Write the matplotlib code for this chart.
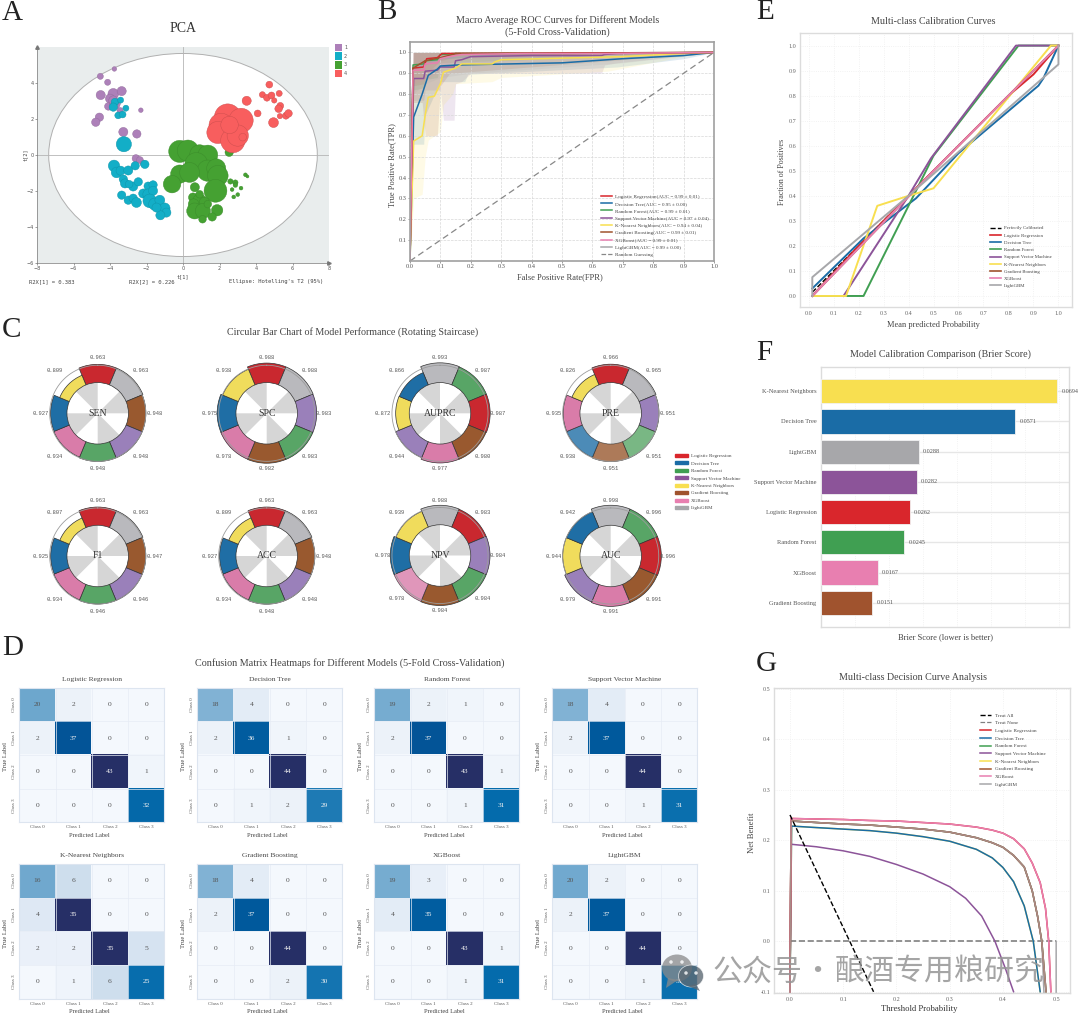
import numpy as np
import matplotlib
matplotlib.use("Agg")
import matplotlib.pyplot as plt
from matplotlib.colors import LinearSegmentedColormap
from matplotlib.lines import Line2D
from matplotlib.patches import Ellipse, Patch, Polygon

plt.rcParams['font.family'] = ['Liberation Serif', 'DejaVu Sans']

W, H = 1080, 1016

names = {"LR": "Logistic Regression", "DT": "Decision Tree", "RF": "Random Forest",
         "SVM": "Support Vector Machine", "KNN": "K-Nearest Neighbors",
         "GB": "Gradient Boosting", "XGB": "XGBoost", "LGBM": "LightGBM"}
colors = {"LR": "#d9262c", "DT": "#1a6ca6", "RF": "#409f52", "SVM": "#8c5499",
          "KNN": "#f8df50", "GB": "#a0532e", "XGB": "#e87fb0", "LGBM": "#a7a7aa"}
ring_colors = {"LR": "#c9282f", "DT": "#1f6ea5", "RF": "#58a566", "SVM": "#9a80ba",
               "KNN": "#f0dc5c", "GB": "#99592f", "XGB": "#d97ca9", "LGBM": "#b9b9bd"}
order = ["LR", "DT", "RF", "SVM", "KNN", "GB", "XGB", "LGBM"]

# PCA scores: t[1], t[2], bubble radius
g1_t1 = [-3.76, -4.53, -4.13, -4.51, -3.82, -3.36, -4.0, -4.09, -3.73, -3.45, -2.31, -4.58, -4.78, -3.27, -2.53, -2.58, -2.36, -2.18, -3.82]
g1_t2 = [4.78, 4.37, 4.04, 3.33, 3.40, 3.55, 3.13, 2.70, 2.85, 2.47, 2.49, 2.10, 1.82, 1.28, 1.17, -0.19, -0.28, -0.47, 3.03]
g1_r = [6, 8, 8, 12, 14, 12, 12, 10, 14, 8, 6, 11, 11, 12, 11, 10, 9, 8, 12]
g2_t1 = [-3.73, -3.42, -3.82, -3.13, -3.55, -3.31, -3.24, -2.09, -2.62, -3.78, -3.64, -3.42, -3.0, -3.27, -3.18, -2.73, -2.45, -2.95, -1.91, -1.64, -3.36, -3.0, -2.73, -2.55, -2.18, -1.91, -1.64, -1.82, -1.55, -1.27, -1.0, -0.91, -1.24, -1.45]
g2_t2 = [2.94, 3.05, 2.66, 2.60, 2.20, 2.25, 0.60, -0.52, -0.60, -0.60, -0.97, -0.87, -0.86, -1.34, -1.58, -1.75, -1.49, -1.62, -1.73, -1.66, -2.23, -2.51, -2.40, -2.64, -2.14, -2.18, -1.99, -2.55, -2.73, -2.51, -2.96, -3.2, -3.35, -2.92]
g2_r = [10, 8, 11, 8, 9, 9, 20, 11, 11, 15, 14, 12, 12, 11, 12, 12, 11, 10, 11, 11, 11, 11, 11, 13, 12, 14, 12, 18, 16, 13, 14, 12, 12, 12]
g3_t1 = [-0.18, 0.27, 0.91, 1.36, 0.73, 1.36, 1.82, 1.91, -0.18, 0.36, -0.6, 1.78, 0.65, 2.53, 2.6, 2.87, 2.87, 2.69, 3.18, 3.0, 2.78, 3.42, 3.53, 0.55, 0.91, 1.18, 0.58, 0.64, 1.09, 1.36, 1.87, 1.6, 1.07, 0.91]
g3_t2 = [0.20, 0.24, 0.02, 0.0, -0.50, -0.87, -0.74, -1.15, -1.06, -0.97, -1.62, -1.99, -1.79, 0.15, -1.47, -1.53, -1.67, -1.92, -1.84, -2.20, -2.33, -1.10, -1.19, -2.36, -2.55, -2.64, -2.73, -3.11, -3.11, -2.73, -3.07, -3.44, -3.57, -2.18]
g3_r = [29, 28, 26, 26, 30, 28, 25, 27, 24, 26, 23, 30, 12, 11, 7, 7, 6, 5, 5, 5, 5, 5, 4, 12, 18, 14, 14, 21, 20, 10, 15, 11, 10, 10]
g4_t1 = [2.45, 3.18, 2.09, 1.91, 2.73, 3.0, 2.55, 3.27, 3.49, 4.73, 4.35, 4.6, 4.85, 5.27, 5.0, 4.09, 5.33, 5.24, 5.31, 5.64, 5.78, 4.96]
g4_t2 = [2.10, 1.92, 1.64, 1.25, 0.80, 1.08, 1.67, 0.99, 3.01, 3.91, 3.35, 3.18, 3.31, 3.42, 3.03, 2.31, 2.73, 2.57, 2.16, 2.18, 2.31, 1.80]
g4_r = [35, 32, 32, 29, 32, 28, 23, 10, 12, 9, 8, 9, 9, 8, 7, 9, 9, 10, 7, 9, 10, 13]

# mean ROC curves
lr_fpr = [0, .01, .045, .055, .09, .105, .14, 1]
lr_tpr = [0, .925, .93, .97, .975, .995, .995, 1]
dt_fpr = [0, .012, .04, .06, .09, .1, .16, .5, .7, .9, 1]
dt_tpr = [0, .69, .8, .89, .92, .935, .94, .95, .97, .985, 1]
rf_fpr = [0, .01, .045, .05, .09, .1, .15, 1]
rf_tpr = [0, .94, .945, .96, .965, .99, .995, 1]
svm_fpr = [0, .012, .045, .05, .09, .1, .145, .15, .17, .2, .4, .63, .64, .68, 1]
svm_tpr = [0, .875, .875, .91, .915, .93, .93, .96, .965, .98, .985, .985, .99, .995, 1]
knn_fpr = [0, .012, .04, .05, .06, .08, .1, .11, .15, .17, .27, .28, .3, .7, .9, 1]
knn_tpr = [0, .575, .6, .7, .785, .79, .85, .905, .925, .945, .945, .955, .965, .98, .995, 1]
gb_fpr = [0, .01, .05, .1, .14, .15, .52, 1]
gb_tpr = [0, .925, .96, .975, .99, .995, .995, 1]
xgb_fpr = [0, .01, .045, .05, .09, .1, .13, .17, .38, .65, 1]
xgb_tpr = [0, .915, .915, .945, .95, .97, .98, .99, .995, .995, 1]
lgbm_fpr = [0, .01, .1, .3, 1]
lgbm_tpr = [0, .92, .97, .99, 1]
roc_fpr = {"LR": lr_fpr, "DT": dt_fpr, "RF": rf_fpr, "SVM": svm_fpr, "KNN": knn_fpr, "GB": gb_fpr, "XGB": xgb_fpr, "LGBM": lgbm_fpr}
roc_tpr = {"LR": lr_tpr, "DT": dt_tpr, "RF": rf_tpr, "SVM": svm_tpr, "KNN": knn_tpr, "GB": gb_tpr, "XGB": xgb_tpr, "LGBM": lgbm_tpr}
auc_text = {"LR": "0.99 ± 0.01", "DT": "0.95 ± 0.00", "RF": "0.99 ± 0.01", "SVM": "0.97 ± 0.04",
            "KNN": "0.94 ± 0.04", "GB": "0.99 ± 0.01", "XGB": "0.99 ± 0.01", "LGBM": "0.99 ± 0.00"}

# lower edge of the +/- 1 std band around each ROC curve
band_x = {"LR": [0, .01, .045, .055, .1, .14, 1],
          "DT": [0, .012, .045, .05, .09, .1, .18, .19, .68, .9, 1],
          "RF": [0, .01, .045, .05, .09, .1, 1],
          "SVM": [0, .012, .045, .05, .1, .11, .145, .15, .17, .2, .63, .64, .68, 1],
          "KNN": [0, .012, .04, .05, .06, .1, .11, .14, .15, .27, .3, .65, .9, 1],
          "GB": [0, .01, .04, .05, .09, .1, .13, 1],
          "XGB": [0, .01, .05, .09, .1, .17, 1],
          "LGBM": [0, .01, .05, .1, .2, .5, .7, 1]}
band_lo = {"LR": [0, .84, .85, .9, .96, .975, 1],
           "DT": [0, .56, .56, .7, .83, .86, .86, .895, .93, .97, 1],
           "RF": [0, .82, .83, .87, .88, .95, 1],
           "SVM": [0, .77, .77, .82, .82, .675, .675, .85, .86, .9, .9, .94, .95, 1],
           "KNN": [0, .3, .32, .5, .58, .62, .75, .8, .85, .86, .88, .91, .98, 1],
           "GB": [0, .76, .76, .6, .6, .84, .9, 1],
           "XGB": [0, .85, .87, .9, .93, .97, 1],
           "LGBM": [0, .8, .85, .88, .9, .93, .95, 1]}

# calibration curves
cal_x = {"LR": [.015, .2, .4, .8, .9, 1], "DT": [.015, .22, .43, .6, .92, .94, 1],
         "RF": [.015, .22, .42, .5, .84, 1], "SVM": [.14, .4, .49, .83, 1],
         "KNN": [.015, .15, .275, .4, .5, .97, 1], "GB": [.015, .5, 1],
         "XGB": [.015, .5, 1], "LGBM": [.015, .015, .4, 1, 1]}
cal_y = {"LR": [0, .2, .4, .8, .885, 1], "DT": [.03, .23, .39, .57, .84, .87, 1],
         "RF": [0, 0, .4, .56, 1, 1], "SVM": [0, .4, .55, 1, 1],
         "KNN": [0, 0, .36, .4, .43, 1, 1], "GB": [0, .5, 1],
         "XGB": [0, .5, 1], "LGBM": [0, .075, .4, .925, 1]}
perfect_x = [.015, 1]
perfect_y = [.015, 1]

# Brier scores, worst first
brier_models = ["KNN", "DT", "LGBM", "SVM", "LR", "RF", "XGB", "GB"]
brier_scores = [0.0694, 0.0571, 0.0288, 0.0282, 0.0262, 0.0245, 0.0167, 0.0151]

# ring values, clockwise from twelve o'clock
sen_models = ["LR", "LGBM", "GB", "SVM", "RF", "XGB", "DT", "KNN"]
sen_vals = [.963, .963, .948, .948, .948, .934, .927, .809]
spc_models = ["LR", "LGBM", "SVM", "RF", "GB", "XGB", "DT", "KNN"]
spc_vals = [.988, .988, .983, .983, .982, .978, .975, .938]
auprc_models = ["LGBM", "RF", "LR", "GB", "XGB", "SVM", "KNN", "DT"]
auprc_vals = [.993, .987, .987, .980, .977, .944, .872, .866]
pre_models = ["LR", "LGBM", "SVM", "RF", "GB", "DT", "XGB", "KNN"]
pre_vals = [.966, .965, .951, .951, .951, .938, .935, .826]
f1_models = ["LR", "LGBM", "GB", "SVM", "RF", "XGB", "DT", "KNN"]
f1_vals = [.963, .963, .947, .946, .946, .934, .925, .807]
acc_models = ["LR", "LGBM", "GB", "SVM", "RF", "XGB", "DT", "KNN"]
acc_vals = [.963, .963, .948, .948, .948, .934, .927, .809]
npv_models = ["LGBM", "LR", "SVM", "RF", "GB", "XGB", "DT", "KNN"]
npv_vals = [.988, .983, .984, .984, .984, .978, .978, .939]
auc_models = ["LGBM", "RF", "LR", "GB", "XGB", "SVM", "KNN", "DT"]
auc_vals = [.998, .996, .996, .991, .991, .979, .944, .942]

cm_lr = [[20, 2, 0, 0], [2, 37, 0, 0], [0, 0, 43, 1], [0, 0, 0, 32]]
cm_dt = [[18, 4, 0, 0], [2, 36, 1, 0], [0, 0, 44, 0], [0, 1, 2, 29]]
cm_rf = [[19, 2, 1, 0], [2, 37, 0, 0], [0, 0, 43, 1], [0, 0, 1, 31]]
cm_svm = [[18, 4, 0, 0], [2, 37, 0, 0], [0, 0, 44, 0], [0, 0, 1, 31]]
cm_knn = [[16, 6, 0, 0], [4, 35, 0, 0], [2, 2, 35, 5], [0, 1, 6, 25]]
cm_gb = [[18, 4, 0, 0], [2, 37, 0, 0], [0, 0, 44, 0], [0, 0, 2, 30]]
cm_xgb = [[19, 3, 0, 0], [4, 35, 0, 0], [0, 0, 43, 1], [0, 0, 1, 31]]
cm_lgbm = [[20, 2, 0, 0], [2, 37, 0, 0], [0, 0, 44, 0], [0, 0, 1, 31]]
class_labels = ["Class 0", "Class 1", "Class 2", "Class 3"]

# decision curves
dca_top_x = [0, .002, .05, .1, .15, .2, .25, .3, .35, .38, .4, .42, .44, .455, .47, .48, .486, .49]
dca_top_y = [-.1, .243, .242, .241, .239, .238, .235, .232, .226, .22, .214, .203, .183, .155, .116, .065, 0, -.1]
dca_mid_x = [0, .002, .05, .1, .15, .2, .25, .3, .35, .38, .4, .42, .44, .455, .465, .473, .481]
dca_mid_y = [-.1, .238, .235, .232, .23, .226, .222, .216, .205, .195, .186, .17, .147, .1, .05, 0, -.1]
dca_dt_x = [0, .003, .05, .1, .15, .2, .25, .3, .35, .38, .4, .42, .44, .457, .47]
dca_dt_y = [-.1, .228, .225, .222, .219, .214, .207, .198, .182, .165, .146, .118, .07, 0, -.1]
dca_svm_x = [0, .002, .05, .1, .15, .2, .25, .3, .33, .36, .385, .405, .42]
dca_svm_y = [-.1, .192, .187, .179, .168, .152, .133, .108, .085, .05, 0, -.055, -.1]
dca_lgbm_x = [0, .002, .05, .1, .15, .2, .25, .3, .35, .38, .4, .42, .44, .455, .465, .473, .481, .5, .5]
dca_lgbm_y = [-.1, .238, .235, .232, .23, .226, .222, .216, .205, .195, .186, .17, .147, .1, .05, 0, -.2, -.2, 0]
dca_x = {"LR": dca_top_x, "DT": dca_dt_x, "RF": dca_mid_x, "SVM": dca_svm_x, "KNN": dca_dt_x, "GB": dca_mid_x, "XGB": dca_top_x, "LGBM": dca_lgbm_x}
dca_y = {"LR": dca_top_y, "DT": dca_dt_y, "RF": dca_mid_y, "SVM": dca_svm_y, "KNN": dca_dt_y, "GB": dca_mid_y, "XGB": dca_top_y, "LGBM": dca_lgbm_y}
treat_all_x = [0, .157]
treat_all_y = [.25, -.1]
treat_none_x = [0, .5]
treat_none_y = [0, 0]

fig = plt.figure(figsize=(W / 100, H / 100), dpi=100)


def axpx(x0, y0, x1, y1, **kw):
    return fig.add_axes([x0 / W, 1 - y1 / H, (x1 - x0) / W, (y1 - y0) / H], **kw)


def ptext(x, y, s, size, color="#444444", ha="center", va="center", **kw):
    fig.text(x / W, 1 - y / H, s, fontsize=size, color=color, ha=ha, va=va, **kw)


def pxlegend(ax, handles, x, y, size, hlen, hpad, spacing):
    ax.legend(handles=handles, loc="upper left", bbox_to_anchor=(x / W, 1 - y / H),
              bbox_transform=fig.transFigure, frameon=False, fontsize=size, borderpad=0,
              borderaxespad=0, handlelength=hlen, handletextpad=hpad, labelspacing=spacing,
              labelcolor="#444444")


def light_frame(ax, color="#dcdcdc", lw=1.0):
    for s in ax.spines.values():
        s.set_color(color)
        s.set_linewidth(lw)


for letter, x, y in [("A", 2, 20), ("B", 377, 19), ("E", 756, 19), ("C", 2, 337),
                     ("F", 756, 360), ("D", 2, 655), ("G", 756, 671)]:
    ptext(x, y, letter, 21, color="#222222", ha="left", va="baseline")

# A: PCA score plot
ptext(183, 28, "PCA", 10, color="#333333")
ax = axpx(37, 47, 329, 263)
ax.set_facecolor("#e9eded")
ax.set_xlim(-8, 8)
ax.set_ylim(-6, 6)
ax.add_patch(Ellipse((0, 0), 14.72, 11.28, fc="white", ec="#b0b0b0", lw=0.7, zorder=1))
ax.axhline(0, color="#b5b5b5", lw=0.6, zorder=1.5)
ax.axvline(0, color="#b5b5b5", lw=0.6, zorder=1.5)
pca_groups = [(g1_t1, g1_t2, g1_r, "#ad80b9", "#8f6a9a"), (g2_t1, g2_t2, g2_r, "#13aec7", "#0f93a8"),
              (g3_t1, g3_t2, g3_r, "#45a132", "#3a8a2a"), (g4_t1, g4_t2, g4_r, "#f85e5e", "#c94c4c")]
for i, (t1, t2, r, c, ec) in enumerate(pca_groups):
    ax.scatter(t1, t2, s=0.3 * np.array(r) ** 2, color=c, edgecolors=ec, linewidths=0.3, zorder=2 + i)
ax.spines[["top", "right"]].set_visible(False)
ax.spines[["left", "bottom"]].set_color("#777777")
ax.spines[["left", "bottom"]].set_linewidth(0.5)
ax.plot(1, 0, ">", color="#777777", ms=2.5, transform=ax.transAxes, clip_on=False)
ax.plot(0, 1, "^", color="#777777", ms=2.5, transform=ax.transAxes, clip_on=False)
ax.set_xticks(np.arange(-8, 9, 2))
ax.set_yticks([-6, -4, -2, 0, 2, 4])
ax.tick_params(labelsize=3.5, length=1.2, width=0.4, pad=1, colors="#555555")
for lab in ax.get_xticklabels() + ax.get_yticklabels():
    lab.set_family("DejaVu Sans")
ptext(183, 277, "t[1]", 3.8, family="DejaVu Sans Mono")
ptext(25, 155, "t[2]", 3.8, rotation=90, family="DejaVu Sans Mono")
ptext(29, 282, "R2X[1] = 0.383", 4, ha="left", family="DejaVu Sans Mono")
ptext(129, 282, "R2X[2] = 0.226", 4, ha="left", family="DejaVu Sans Mono")
ptext(229, 282, "Ellipse: Hotelling's T2 (95%)", 4, ha="left", family="DejaVu Sans Mono")
leg_ax = axpx(334, 43, 348, 79)
leg_ax.set_xlim(0, 14)
leg_ax.set_ylim(36, 0)
leg_ax.axis("off")
for i, (lab, c) in enumerate(zip(["1", "2", "3", "4"], ["#ad80b9", "#13aec7", "#45a132", "#f85e5e"])):
    leg_ax.bar(4.5, 7.5, width=8, bottom=0.8 + i * 8.6, color=c)
    leg_ax.text(10, 4.5 + i * 8.6, lab, fontsize=3.5, va="center", color="#555555", family="DejaVu Sans")

# B: macro-average ROC
ptext(557.5, 20, "Macro Average ROC Curves for Different Models", 7.3)
ptext(557.5, 32, "(5-Fold Cross-Validation)", 7.3)
ax = axpx(410, 42, 714, 261)
for m in order:
    lo = np.array(band_lo[m], dtype=float)
    hi = np.ones_like(lo)
    hi[0] = 0
    ax.fill_between(band_x[m], lo, hi, color=colors[m], alpha=0.14, lw=0)
ax.plot([0, 1], [0, 1], color="#888888", ls="--", lw=0.9, dashes=(5, 3))
for m in ["LGBM", "SVM", "DT", "KNN", "RF", "LR", "GB", "XGB"]:
    ax.plot(roc_fpr[m], roc_tpr[m], color=colors[m], lw=1.1)
ax.set_xlim(0, 1)
ax.set_ylim(0, 1.05)
ax.set_xticks(np.arange(0, 1.01, .1))
ax.set_yticks(np.arange(.1, 1.01, .1))
ax.grid(color="#d8d8d8", ls="--", lw=0.5)
light_frame(ax, "#a0a0a0", 1.2)
ax.tick_params(labelsize=4.6, length=1.5, width=0.4, pad=1, colors="#555555")
ptext(560, 277, "False Positive Rate(FPR)", 6)
ptext(392, 165, "True Positive Rate(TPR)", 6, rotation=90)
roc_handles = [Line2D([], [], color=colors[m], lw=1.1, label=f"{names[m]}(AUC = {auc_text[m]})") for m in order]
roc_handles.append(Line2D([], [], color="#888888", ls="--", lw=0.9, label="Random Guessing"))
pxlegend(ax, roc_handles, 601, 194, 3.7, 2.2, 0.6, 0.53)

# C: ring charts
ring_metrics = [("SEN", sen_models, sen_vals, 97.7, 413.3), ("SPC", spc_models, spc_vals, 266.7, 413.3),
                ("AUPRC", auprc_models, auprc_vals, 440, 413.3), ("PRE", pre_models, pre_vals, 610.7, 413.3),
                ("F1", f1_models, f1_vals, 97.7, 556), ("ACC", acc_models, acc_vals, 266.7, 556),
                ("NPV", npv_models, npv_vals, 440, 555.5), ("AUC", auc_models, auc_vals, 610.7, 556)]
faded = {"PRE": ("RF", "GB", "DT"), "NPV": ("XGB",)}
ptext(353, 332, "Circular Bar Chart of Model Performance (Rotating Staircase)", 7.2)
inner = 0.605
for metric, models, vals, cx, cy in ring_metrics:
    ax = axpx(cx - 61, cy - 61, cx + 61, cy + 61, projection="polar")
    ax.set_theta_zero_location("N")
    ax.set_theta_direction(-1)
    ax.set_ylim(0, 1.2)
    ax.axis("off")
    ax.patch.set_visible(False)
    theta = np.radians(np.arange(8) * 45)
    ax.bar(np.radians([67.5, 157.5, 247.5, 337.5]), inner, width=np.radians(45), color="#d6d6d6", lw=0)
    ring_t = np.linspace(0, 2 * np.pi, 200)
    ax.plot(ring_t, np.full(200, 0.945), color="#9c9c9c", lw=0.6)
    for k, (t, m, v) in enumerate(zip(theta, models, vals)):
        alpha = 0.8 if m in faded.get(metric, ()) else 1
        ax.bar(t, v - inner, width=np.radians(45), bottom=inner, color=ring_colors[m],
               alpha=alpha, edgecolor="#333333", linewidth=0.5)
        # diagonal labels sit further out, top and bottom a little closer
        lab_r = 1.2 if k % 2 else (1.09 if k % 4 == 0 else 1.13)
        ax.text(t, lab_r, f"{v:.3f}", fontsize=4, color="#555555", ha="center", va="center",
                family="Liberation Mono", clip_on=False)
    ax.text(0, 0, metric, fontsize=7, color="#333333", ha="center", va="center")
ring_handles = [Patch(color=colors[m], label=names[m]) for m in order]
fig.legend(handles=ring_handles, loc="upper left", bbox_to_anchor=(675 / W, 1 - 454 / H), frameon=False,
           fontsize=3.6, borderpad=0, borderaxespad=0, handlelength=2.6, handleheight=0.55,
           handletextpad=0.6, labelspacing=0.63, labelcolor="#444444")

# D: confusion matrices
cm_cmap = LinearSegmentedColormap.from_list(
    "cm", [(0, "#f4f8fd"), (.1, "#e2ebf6"), (.2, "#c6d9ea"), (.45, "#74abd0"), (.72, "#056cad"), (.85, "#00589c"), (1, "#262f66")])
cm_panels = [("LR", cm_lr, 19.3, 687.7), ("DT", cm_dt, 197.3, 687.7), ("RF", cm_rf, 374.3, 687.7), ("SVM", cm_svm, 552.3, 687.7),
             ("KNN", cm_knn, 19.3, 864), ("GB", cm_gb, 197.3, 864), ("XGB", cm_xgb, 374.3, 864), ("LGBM", cm_lgbm, 552.3, 864)]
ptext(350, 663, "Confusion Matrix Heatmaps for Different Models (5-Fold Cross-Validation)", 7.25)
for m, cm, x0, y0 in cm_panels:
    cm = np.array(cm)
    ax = axpx(x0, y0, x0 + 145, y0 + 134.5)
    ax.imshow(cm, cmap=cm_cmap, vmin=0, vmax=cm.max(), aspect="auto")
    for i in range(4):
        for j in range(4):
            t = cm[i, j] / cm.max()
            ax.text(j, i, str(cm[i, j]), fontsize=5.4, ha="center", va="center",
                    color="#f2f2f2" if t > .6 else "#555555")
    ax.set_xticks(range(4), class_labels)
    ax.set_yticks(range(4), class_labels, rotation=90, va="center")
    ax.set_xticks(np.arange(-.5, 4), minor=True)
    ax.set_yticks(np.arange(-.5, 4), minor=True)
    ax.grid(which="minor", color="#e6ecf5", lw=0.5)
    ax.tick_params(which="both", length=0)
    ax.tick_params(labelsize=3.6, pad=2.2, colors="#555555")
    light_frame(ax, "#dde5f0", 0.8)
    ax.set_title(names[m], fontsize=5.4, color="#444444", pad=5)
    ptext(x0 + 70, y0 + 147.5, "Predicted Label", 4.6)
    ptext(x0 - 13.6, y0 + 69, "True Label", 4.8, rotation=90)

# E: calibration
ptext(933, 22, "Multi-class Calibration Curves", 7.2)
ax = axpx(800.3, 33.3, 1071.7, 307)
ax.plot(perfect_x, perfect_y, color="black", ls="--", lw=1)
for m in order:
    ax.plot(cal_x[m], cal_y[m], color=colors[m], lw=1.4)
ax.set_xlim(-0.033, 1.053)
ax.set_ylim(-0.044, 1.049)
ax.set_xticks(np.arange(0, 1.01, .1))
ax.set_yticks(np.arange(0, 1.01, .1))
ax.grid(color="#eeeeee", ls=":", lw=0.6)
light_frame(ax)
ax.tick_params(labelsize=4.4, length=0, pad=3, colors="#666666")
ptext(933, 325, "Mean predicted Probability", 6)
ptext(782, 172, "Fraction of Positives", 5.8, rotation=90)
cal_handles = [Line2D([], [], color="black", ls="--", lw=1, label="Perfectly Calibrated")]
cal_handles += [Line2D([], [], color=colors[m], lw=1.2, label=names[m]) for m in order]
pxlegend(ax, cal_handles, 990, 226, 3.5, 2.3, 0.6, 0.58)

# F: Brier score bars
ptext(941, 354, "Model Calibration Comparison (Brier Score)", 7.2)
ax = axpx(820.7, 367.3, 1069.3, 626.7)
ax.barh(range(8), brier_scores, height=0.8, color=[colors[m] for m in brier_models],
        edgecolor="#f2f2f2", linewidth=0.6, zorder=3)
for i, v in enumerate(brier_scores):
    ax.text(v + 0.0012, i, f"{v:.4f}", fontsize=4.4, va="center", color="#555555", zorder=4)
ax.set_yticks(range(8), [names[m] for m in brier_models])
ax.set_xlim(0, 0.0729)
ax.set_ylim(7.79, -0.79)
ax.set_xticks(np.arange(0.01, 0.0701, 0.01), [])
ax.grid(axis="y", color="#e6e6e6", lw=1.0, zorder=0)
ax.grid(axis="x", color="#eeeeee", ls=":", lw=0.6, zorder=0)
light_frame(ax)
ax.tick_params(labelsize=4.6, length=0, pad=3, colors="#555555")
ptext(945, 637, "Brier Score (lower is better)", 6)

# G: decision curves, hidden duplicates go first
ptext(912.7, 678, "Multi-class Decision Curve Analysis", 7.2)
ax = axpx(774.3, 688.3, 1070, 993.3)
ax.plot(treat_none_x, treat_none_y, color="#808080", ls="--", lw=1.2)
for m in ["KNN", "DT", "RF", "SVM", "LGBM", "GB", "LR", "XGB"]:
    ax.plot(dca_x[m], dca_y[m], color=colors[m], lw=1.1)
ax.plot(dca_mid_x, dca_mid_y, color="#a98a86", lw=1.1)
ax.plot(treat_all_x, treat_all_y, color="black", ls="--", lw=1)
ax.set_xlim(-0.0295, 0.526)
ax.set_ylim(-0.103, 0.5007)
ax.set_xticks(np.arange(0, .51, .1))
ax.set_yticks(np.arange(-.1, .51, .1), ["-0.1", "0.0", "0.1", "0.2", "0.3", "0.4", "0.5"])
ax.grid(color="#eeeeee", ls=":", lw=0.6)
light_frame(ax)
ax.tick_params(labelsize=4.4, length=0, pad=3, colors="#666666")
ptext(919, 1009, "Threshold Probability", 6.2, color="#333333")
ptext(752, 833, "Net Benefit", 6.2, rotation=90)
dca_handles = [Line2D([], [], color="black", ls="--", lw=1, label="Treat All"),
               Line2D([], [], color="#808080", ls="--", lw=0.9, label="Treat None")]
dca_handles += [Line2D([], [], color=colors[m], lw=1.1, label=names[m]) for m in order]
pxlegend(ax, dca_handles, 980, 713, 3.7, 2.2, 0.7, 0.6)

# account watermark on top of everything
over = fig.add_axes([0, 0, 1, 1], zorder=50)
over.set_xlim(0, W)
over.set_ylim(H, 0)
over.axis("off")
over.add_patch(Ellipse((677, 968), 30, 27, fc="#8a8a8a", ec="none", alpha=0.75))
over.add_patch(Polygon([[668, 978], [666, 988], [678, 980]], fc="#8a8a8a", ec="none", alpha=0.75))
over.add_patch(Ellipse((691, 976), 25, 22, fc="#5e6a74", ec="white", lw=0.5, alpha=0.8))
over.add_patch(Polygon([[696, 984], [700, 991], [688, 986]], fc="#5e6a74", ec="none", alpha=0.8))
for dx, dy in [(671, 962), (682, 962), (686, 973), (696, 973)]:
    over.add_patch(Ellipse((dx, dy), 3.5, 3.5, fc="white", ec="none", alpha=0.8))
cjk = ["Noto Sans CJK SC", "DejaVu Sans"]
over.text(712, 972, "公众号", fontsize=21.6, color="#959595", alpha=0.85, ha="left", va="center", family=cjk)
over.text(817, 972, "·", fontsize=21.6, color="#959595", alpha=0.85, ha="center", va="center", family=cjk)
over.text(835, 972, "酿酒专用粮研究", fontsize=21.6, color="#959595", alpha=0.85, ha="left", va="center", family=cjk)

fig.savefig("out.png", dpi=100)
